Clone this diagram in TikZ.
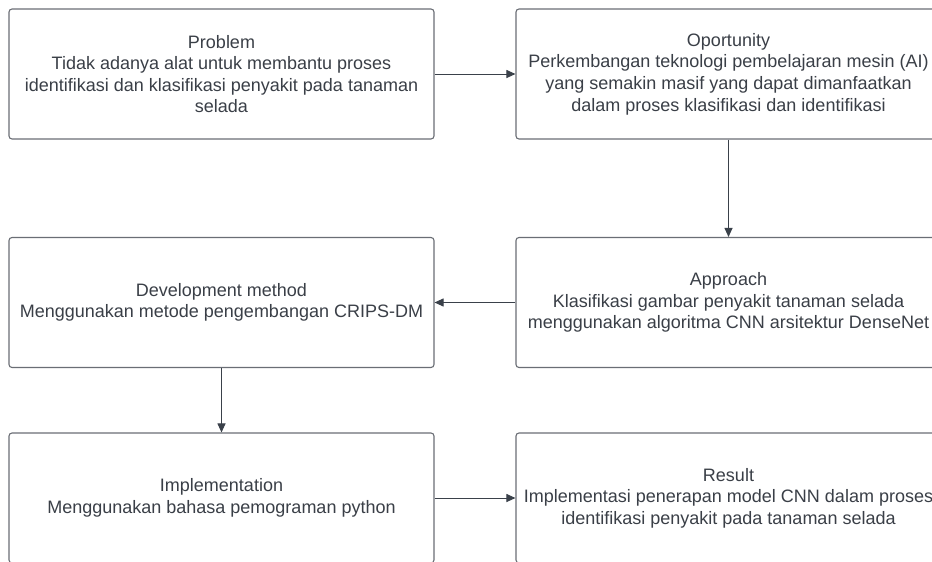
\documentclass[tikz,border=0pt]{standalone}
\usepackage{fontspec}
\setmainfont{Liberation Sans}
\usetikzlibrary{arrows.meta}
\definecolor{boxline}{HTML}{6A6E75}
\definecolor{txt}{HTML}{3A3F47}
\definecolor{arr}{HTML}{3A414A}
\begin{document}
\begin{tikzpicture}[x=1pt,y=-1pt,
  box/.style={draw=boxline,line width=1.1pt,rounded corners=3pt,minimum width=425pt,minimum height=130pt,
    align=center,text=txt,font=\fontsize{18}{21.6}\selectfont,inner sep=0pt},
  conn/.style={draw=arr,line width=1pt,-{Triangle[length=9pt,width=8pt]}}]
\useasboundingbox (0,0) rectangle (932,562);
\clip (0,0) rectangle (932,562);
\fill[white] (0,0) rectangle (932,562);
\node[box] (p) at (221.5,74) {Problem\\Tidak adanya alat untuk membantu proses\\identifikasi dan klasifikasi penyakit pada tanaman\\selada};
\node[box] (o) at (728.5,74) {Oportunity\\Perkembangan teknologi pembelajaran mesin (AI)\\yang semakin masif yang dapat dimanfaatkan\\dalam proses klasifikasi dan identifikasi};
\node[box] (d) at (221.5,302.5) {Development method\\Menggunakan metode pengembangan CRIPS-DM};
\node[box] (a) at (728.5,302.5) {Approach\\Klasifikasi gambar penyakit tanaman selada\\menggunakan algoritma CNN arsitektur DenseNet};
\node[box] (i) at (221.5,498) {Implementation\\Menggunakan bahasa pemograman python};
\node[box] (r) at (728.5,498) {Result\\Implementasi penerapan model CNN dalam proses\\identifikasi penyakit pada tanaman selada};
\draw[conn] (p.east) -- (o.west);
\draw[conn] (o.south) -- (a.north);
\draw[conn] (a.west) -- (d.east);
\draw[conn] (d.south) -- (i.north);
\draw[conn] (i.east) -- (r.west);
\end{tikzpicture}
\end{document}
